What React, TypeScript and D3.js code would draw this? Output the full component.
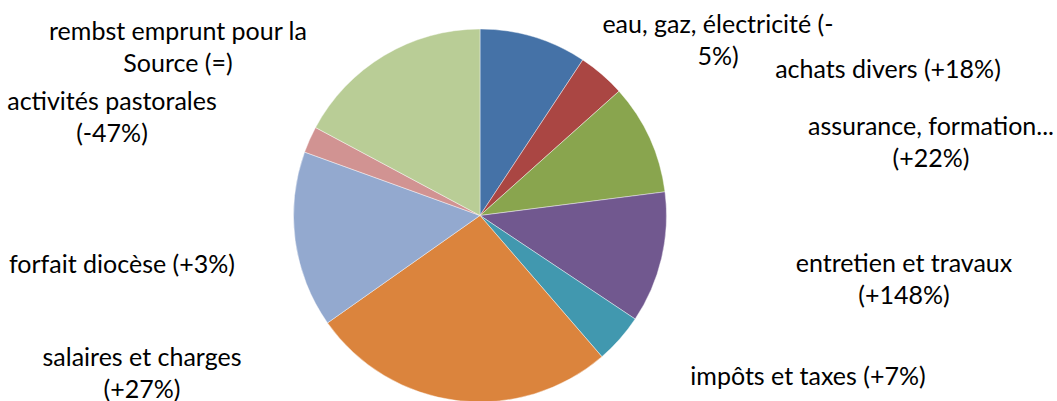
// ─ Imports ──────────────────────────────────────────────────────────────────────────────────────
import * as d3 from 'd3';
import { ReactElement, useEffect, useRef } from 'react';

// ─ Data ─────────────────────────────────────────────────────────────────────────────────────────
const categories = [
  'eau, gaz, électricité',
  'achats divers',
  'assurance, formation...',
  'entretien et travaux',
  'impôts et taxes',
  'salaires et charges',
  'forfait diocèse',
  'activités pastorales',
  'rembst emprunt pour la Source',
];

// share of the budget (percent)
const shares = [9.3, 4.1, 9.6, 11.4, 4.3, 26.6, 15.3, 2.3, 17.2];

// label text as it wraps in the picture
const labelLines = [
  ['eau, gaz, électricité (-', '5%)'],
  ['achats divers (+18%)'],
  ['assurance, formation...', '(+22%)'],
  ['entretien et travaux', '(+148%)'],
  ['impôts et taxes (+7%)'],
  ['salaires et charges', '(+27%)'],
  ['forfait diocèse (+3%)'],
  ['activités pastorales', '(-47%)'],
  ['rembst emprunt pour la', 'Source (=)'],
];

const colors = ['#4572A7', '#AA4643', '#89A54E', '#71588F', '#4198AF', '#DB843D', '#93A9CF', '#D19392', '#B9CD96'];

// ─ Layout ───────────────────────────────────────────────────────────────────────────────────────
const WIDTH = 1057;
const HEIGHT = 401;
const CENTER = { x: 480, y: 215.5 };
const RADIUS = 186.5;
const LINE_HEIGHT = 32;
const FONT = 'Lato, "Open Sans", sans-serif';

// label anchor: centre x and first baseline y for each slice
const labelAnchors = [
  { x: 718, y: 33 },
  { x: 888, y: 78 },
  { x: 931, y: 135 },
  { x: 904, y: 272 },
  { x: 808, y: 385 },
  { x: 142, y: 366 },
  { x: 122, y: 273 },
  { x: 112, y: 110 },
  { x: 178, y: 40 },
];

interface Slice {
  name: string;
  value: number;
  color: string;
  lines: string[];
  anchor: { x: number; y: number };
}

const App = (): ReactElement => {
  const svgRef = useRef<SVGSVGElement>(null);

  useEffect(() => {
    if (!svgRef.current) { return; }
    const svg = d3.select(svgRef.current);
    svg.selectAll('*').remove();

    const data: Slice[] = categories.map((name, i) => ({
      name,
      value: shares[i],
      color: colors[i],
      lines: labelLines[i],
      anchor: labelAnchors[i],
    }));

    const pie = d3.pie<Slice>().sort(null).value(d => d.value);
    const arc = d3.arc<d3.PieArcDatum<Slice>>().innerRadius(0).outerRadius(RADIUS);

    const g = svg.append('g').attr('transform', `translate(${CENTER.x},${CENTER.y})`);

    g.selectAll('path')
      .data(pie(data))
      .enter()
      .append('path')
      .attr('d', arc)
      .attr('fill', d => d.data.color)
      .attr('stroke', '#ffffff')
      .attr('stroke-width', 0.6)
      .attr('stroke-opacity', 0.7);

    // Labels
    const labels = svg.selectAll('.label')
      .data(data)
      .enter()
      .append('text')
      .attr('class', 'label')
      .attr('text-anchor', 'middle')
      .style('font-family', FONT)
      .style('font-size', '25px')
      .style('fill', '#000000');

    labels.selectAll('tspan')
      .data(d => d.lines.map((line, i) => ({ line, i, anchor: d.anchor })))
      .enter()
      .append('tspan')
      .attr('x', d => d.anchor.x)
      .attr('y', d => d.anchor.y + d.i * LINE_HEIGHT)
      .text(d => d.line);
  }, []);

  return (
    <svg
      ref={svgRef}
      width={WIDTH}
      height={HEIGHT}
      style={{ position: 'absolute', left: 0, top: 0, background: '#ffffff' }}
    />
  );
};

// ─ Exports ──────────────────────────────────────────────────────────────────────────────────────
export default App;
